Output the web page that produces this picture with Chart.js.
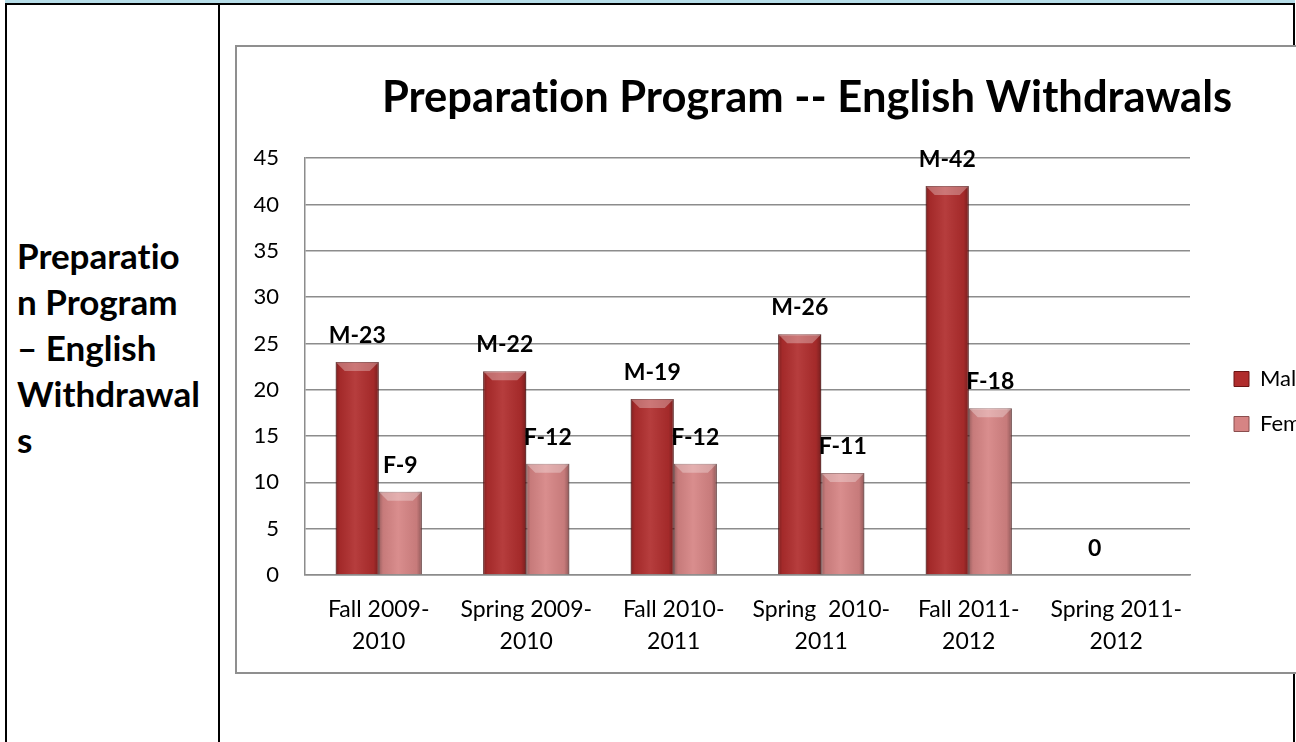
<!DOCTYPE html>
<html>
<head>
<meta charset="utf-8">
<title>Preparation Program -- English Withdrawals</title>
<script src="https://cdn.jsdelivr.net/npm/chart.js@4.4.0/dist/chart.umd.min.js"></script>
<style>
  html, body { margin: 0; padding: 0; width: 1296px; height: 742px; overflow: hidden; background: #fff; }
  .band { position: absolute; left: 5px; top: 0; width: 1290px; height: 3px; background: #b6dde8; }
  .rule-h { position: absolute; left: 5px; top: 3px; width: 1290px; height: 2px; background: #000; }
  .rule-v { position: absolute; top: 3px; width: 2px; height: 739px; background: #000; }
  .side { position: absolute; left: 17px; top: 232px; font: bold 35px/46px Lato, sans-serif; color: #000;
          font-variant-ligatures: none; }
  .chart-box { position: absolute; left: 235px; top: 45px; width: 1120px; height: 625px;
               border: 2px solid #8f8f8f; background: #fff; }
  .chart-box canvas { position: absolute; left: 0; top: 0; }
</style>
</head>
<body>
<div class="band"></div>
<div class="rule-h"></div>
<div class="rule-v" style="left:5px"></div>
<div class="rule-v" style="left:218px"></div>
<div class="rule-v" style="left:1293px"></div>
<div class="side">
  <div>Preparatio</div>
  <div>n Program</div>
  <div>– English</div>
  <div>Withdrawal</div>
  <div>s</div>
</div>
<div class="chart-box">
  <canvas id="chart" width="1124" height="625"></canvas>
</div>
<script>
const chartTitle = 'Preparation Program -- English Withdrawals';
const categories = [
  ['Fall 2009-', '2010'],
  ['Spring 2009-', '2010'],
  ['Fall 2010-', '2011'],
  ['Spring  2010-', '2011'],
  ['Fall 2011-', '2012'],
  ['Spring 2011-', '2012']
];
const seriesNames = ['Male', 'Female'];
const maleValues = [23, 22, 19, 26, 42, 0];
const femaleValues = [9, 12, 12, 11, 18, 0];
const maleTags = ['M-23', 'M-22', 'M-19', 'M-26', 'M-42', '0'];
const femaleTags = ['F-9', 'F-12', 'F-12', 'F-11', 'F-18', ''];
const yMin = 0;
const yMax = 45;
const yStep = 5;

const FONT = 'Lato';
const GRID = '#8c8c8c';

// tiny letter spacing keeps Lato from using its "ti" ligature
const noLigatures = {
    id: 'noLigatures',
    beforeDraw(chart) {
        chart.ctx.letterSpacing = '0.01px';
    }
};

// fake the 3D bevel look of the Excel bars
const barShading = {
    id: 'barShading',
    afterDatasetDraw(chart, args) {
        const ctx = chart.ctx;
        ctx.save();
        args.meta.data.forEach(bar => {
            const { x, y, base, width } = bar.getProps(['x', 'y', 'base', 'width'], true);
            const h = base - y;
            if (h < 2) return;
            const left = x - width / 2;
            const right = x + width / 2;

            const g = ctx.createLinearGradient(left, 0, right, 0);
            g.addColorStop(0, 'rgba(0,0,0,0.28)');
            g.addColorStop(0.1, 'rgba(0,0,0,0.07)');
            g.addColorStop(0.45, 'rgba(255,255,255,0.08)');
            g.addColorStop(0.88, 'rgba(0,0,0,0.07)');
            g.addColorStop(1, 'rgba(0,0,0,0.32)');
            ctx.fillStyle = g;
            ctx.fillRect(left, y, width, h);

            const b = Math.min(9, h / 2);
            ctx.beginPath();
            ctx.moveTo(left, y);
            ctx.lineTo(right, y);
            ctx.lineTo(right - b, y + b);
            ctx.lineTo(left + b, y + b);
            ctx.closePath();
            ctx.fillStyle = 'rgba(255,255,255,0.3)';
            ctx.fill();
        });
        ctx.restore();
    }
};

const valueTags = {
    id: 'valueTags',
    afterDatasetsDraw(chart) {
        const ctx = chart.ctx;
        ctx.save();
        ctx.font = 'bold 23px ' + FONT;
        ctx.fillStyle = '#000';
        ctx.textAlign = 'center';
        ctx.textBaseline = 'alphabetic';
        [maleTags, femaleTags].forEach((tags, di) => {
            chart.getDatasetMeta(di).data.forEach((bar, i) => {
                if (!tags[i]) return;
                const { x, y } = bar.getProps(['x', 'y'], true);
                ctx.fillText(tags[i], x, y - 19);
            });
        });
        ctx.restore();
    }
};

// invisible spacer axes, used only to push the legend / title into place
const spacer = (w, weight) => ({
    type: 'linear',
    position: 'right',
    weight,
    grid: { display: false, drawTicks: false },
    border: { display: false },
    ticks: { display: false },
    afterFit: s => { s.width = w; }
});

new Chart(document.getElementById('chart'), {
    type: 'bar',
    data: {
        labels: categories,
        datasets: [{
            label: seriesNames[0],
            data: maleValues,
            backgroundColor: '#b02d2d',
            borderColor: '#6b1414',
            borderWidth: 1,
            categoryPercentage: 0.584,
            barPercentage: 1
        }, {
            label: seriesNames[1],
            data: femaleValues,
            backgroundColor: '#d68484',
            borderColor: '#8a4e4e',
            borderWidth: 1,
            categoryPercentage: 0.584,
            barPercentage: 1
        }]
    },
    options: {
        responsive: false,
        animation: false,
        devicePixelRatio: 1,
        layout: { padding: { left: 16, top: 0, right: 0, bottom: 15 } },
        plugins: {
            title: {
                display: true,
                text: chartTitle,
                color: '#000',
                font: { family: FONT, size: 43.5, weight: 'bold', lineHeight: 1.2 },
                padding: { top: 25, bottom: 34 }
            },
            legend: {
                position: 'right',
                maxWidth: 100,
                title: { display: true, text: ' ', font: { size: 11, lineHeight: 1 }, padding: 44 },
                labels: {
                    boxWidth: 15,
                    boxHeight: 15,
                    padding: 23,
                    color: '#000',
                    font: { family: FONT, size: 22 }
                }
            },
            tooltip: { enabled: false }
        },
        scales: {
            x: {
                grid: { display: false, drawTicks: false },
                border: { display: true, color: GRID, width: 1.5 },
                ticks: {
                    color: '#000',
                    padding: 18,
                    maxRotation: 0,
                    autoSkip: false,
                    font: { family: FONT, size: 23, lineHeight: 1.4 }
                },
                afterFit: s => { s.height = 82; }
            },
            y: {
                min: yMin,
                max: yMax,
                ticks: {
                    stepSize: yStep,
                    padding: 26,
                    color: '#000',
                    font: { family: FONT, size: 22 }
                },
                grid: { color: GRID, lineWidth: 1.5, drawTicks: false },
                border: { display: true, color: GRID, width: 1.5 },
                afterFit: s => { s.width = 52; }
            },
            gap: spacer(21, 0),
            trail: spacer(50, 2000)
        }
    },
    plugins: [noLigatures, barShading, valueTags]
});
</script>
</body>
</html>
